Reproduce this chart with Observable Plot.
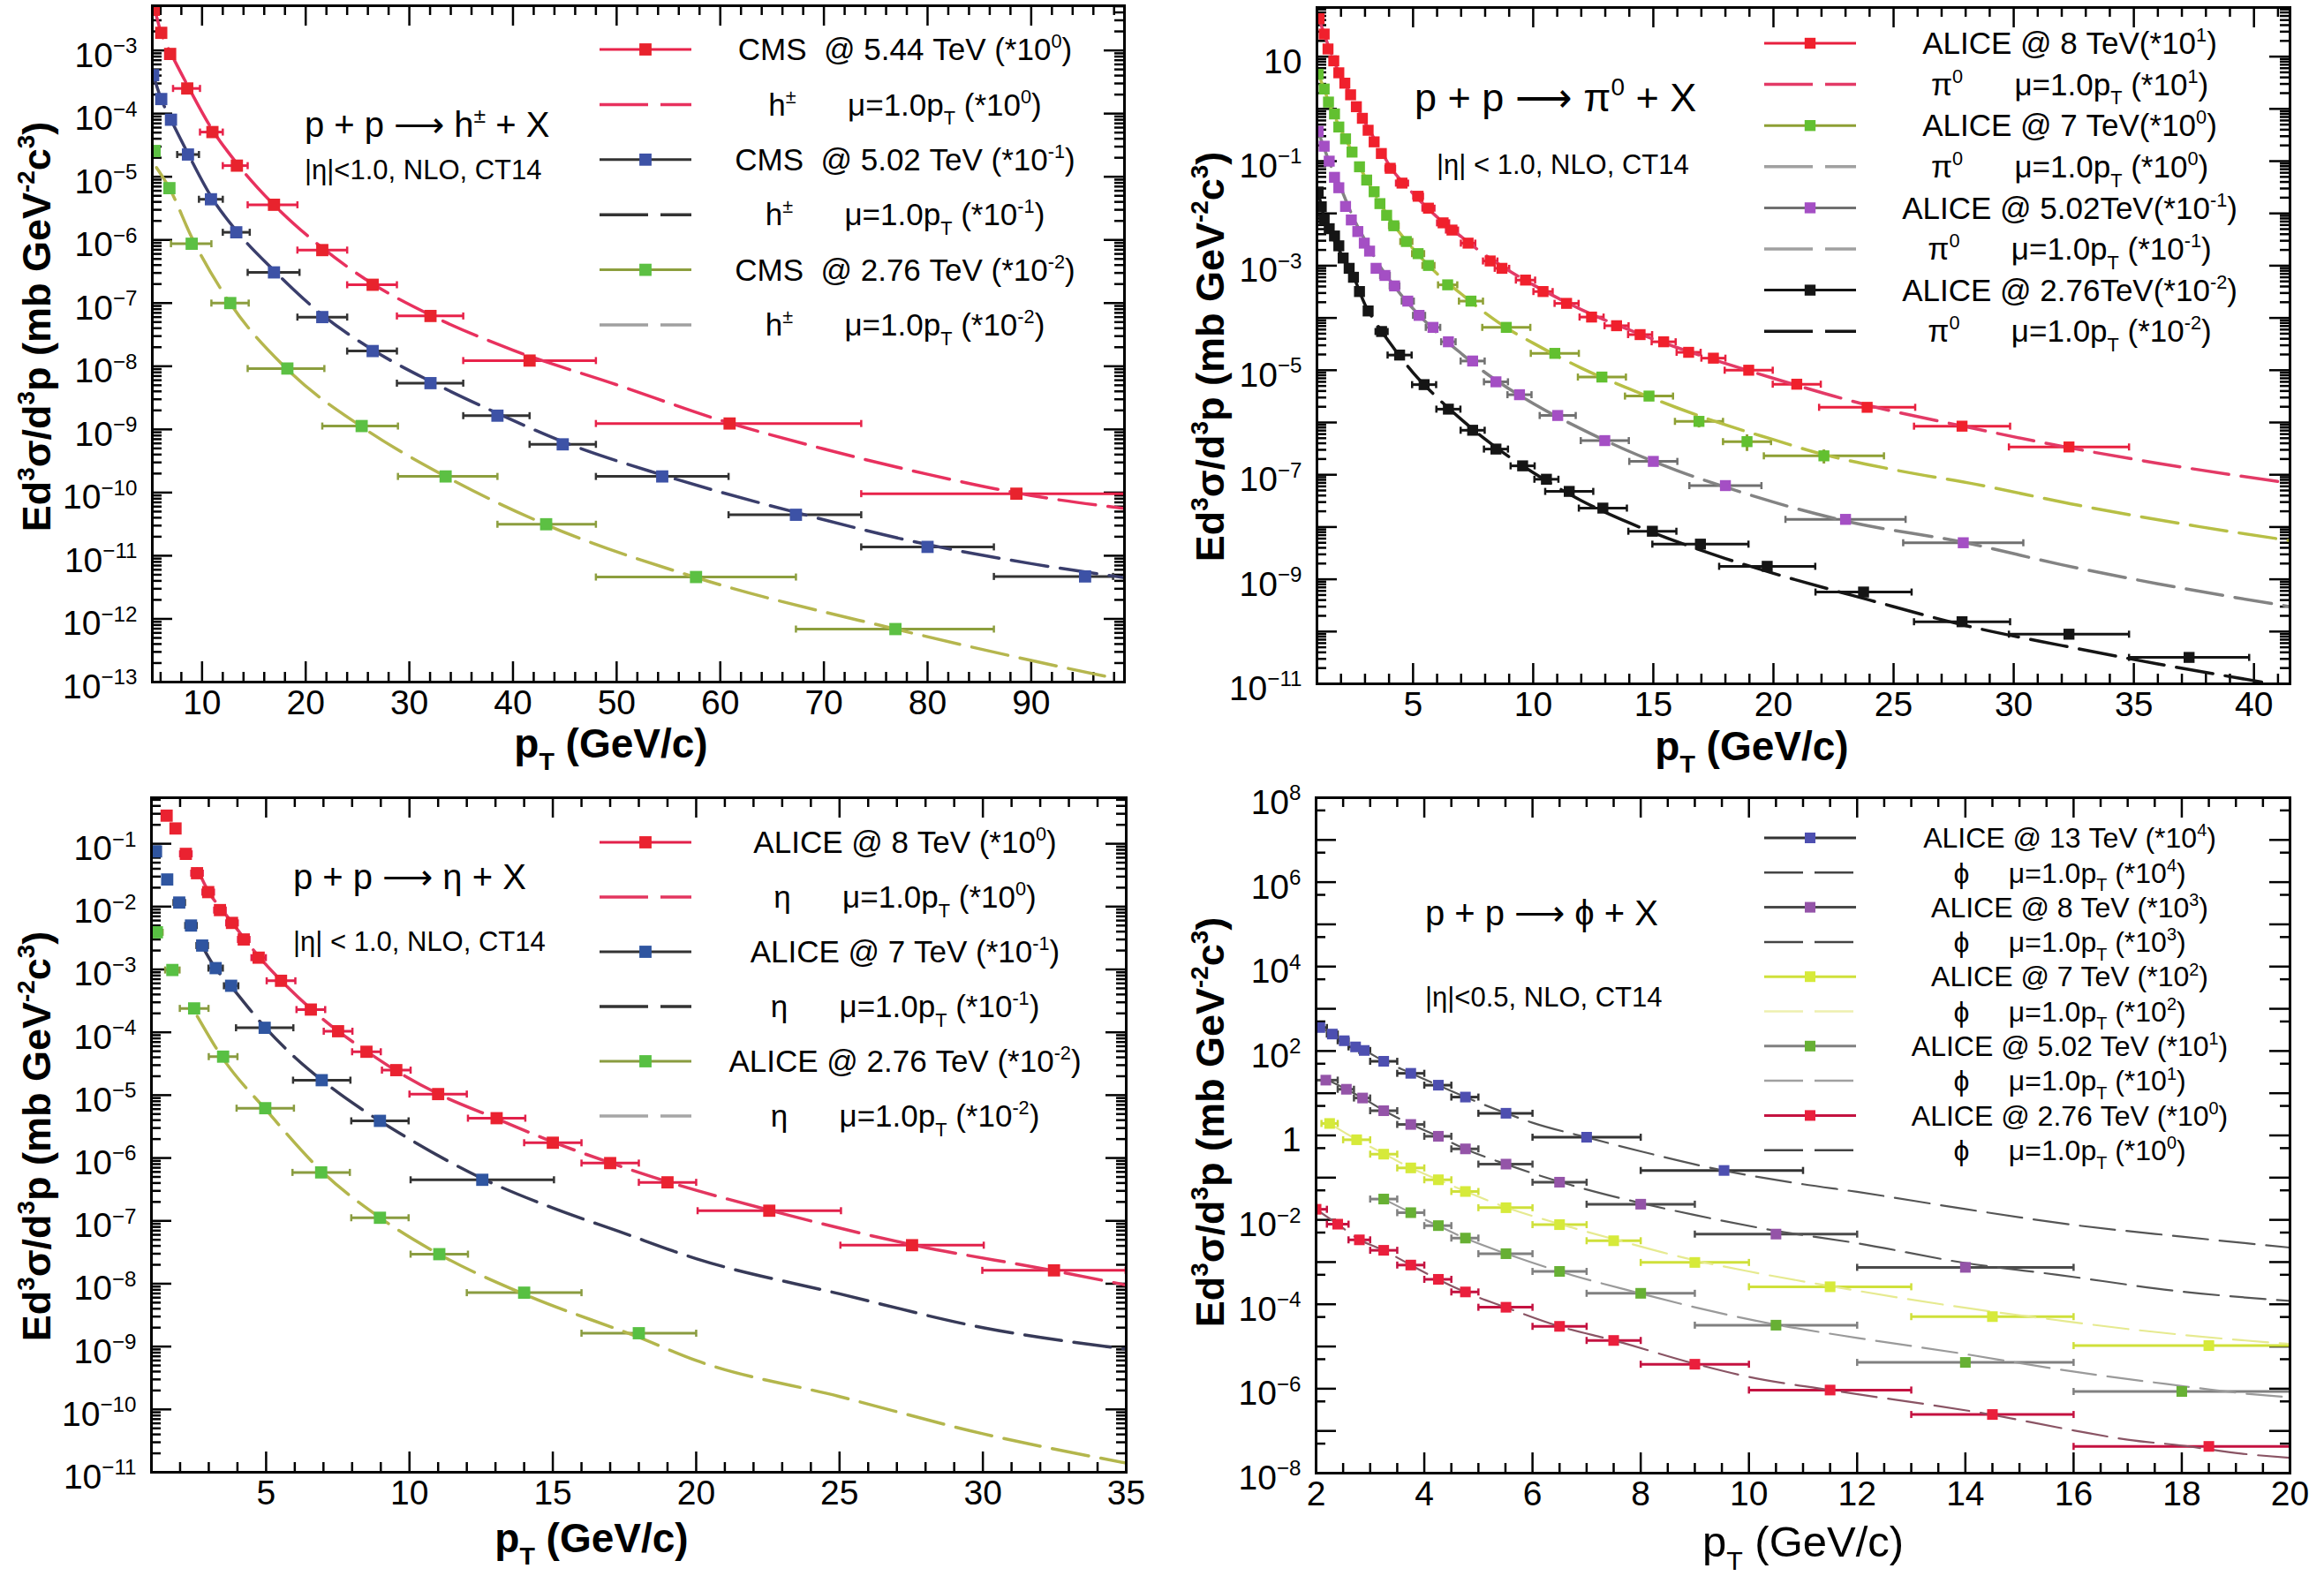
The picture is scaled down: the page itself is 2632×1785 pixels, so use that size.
<!DOCTYPE html>
<html><head><meta charset="utf-8">
<script src="https://cdn.jsdelivr.net/npm/d3@7"></script>
<script src="https://cdn.jsdelivr.net/npm/@observablehq/plot@0.6"></script>
<style>
html,body{margin:0;padding:0;background:#fff;}
#wrap{position:relative;width:2632px;height:1785px;background:#fff;overflow:hidden;}
.panel{position:absolute;}
svg text{white-space:pre;}
</style></head><body><div id="wrap"></div><script>
// ---------------- Panel 1: p+p -> h± + X (CMS) ----------------
const h544_pt  = [5.35,6.06,6.92,8.57,11.0,13.36,16.94,21.6,26.46,32.04,41.6,60.9,88.57];
const h544_val = [4.4e-3,1.9e-3,8.8e-4,2.5e-4,5.1e-5,1.5e-5,3.6e-6,6.9e-7,1.95e-7,6.25e-8,1.23e-8,1.24e-9,9.6e-11];
const h544_lo  = [5.2,5.8,6.6,7.2,9.8,12.0,14.4,19.2,24.0,28.8,35.2,48.0,73.6];
const h544_hi  = [5.5,6.3,7.2,9.8,12.0,14.4,19.2,24.0,28.8,35.2,48.0,73.6,99.0];
const h502_pt  = [5.28,6.06,7.0,8.64,10.86,13.3,16.94,21.6,26.46,32.04,38.5,44.8,54.4,67.3,80.0,95.2];
const h502_val = [4.06e-4,1.7e-4,8.0e-5,2.25e-5,4.4e-6,1.32e-6,3.06e-7,6.0e-8,1.74e-8,5.4e-9,1.65e-9,5.8e-10,1.8e-10,4.45e-11,1.38e-11,4.7e-12];
const h502_lo  = [5.2,5.8,6.6,7.6,9.7,12.0,14.4,19.2,24.0,28.8,35.2,41.6,48.0,60.8,73.6,86.4];
const h502_hi  = [5.4,6.3,7.4,9.7,12.0,14.6,19.4,24.0,28.8,35.2,41.6,48.0,60.8,73.6,86.4,97.9];
const h276_pt  = [5.42,6.85,9.0,12.72,18.23,25.4,33.5,43.2,57.66,76.9];
const h276_val = [2.56e-5,6.6e-6,8.7e-7,1.0e-7,9.2e-9,1.13e-9,1.8e-10,3.15e-11,4.6e-12,6.9e-13];
const h276_lo  = [5.2,6.4,7.0,10.9,14.4,21.6,28.9,38.5,48.0,67.3];
const h276_hi  = [5.6,7.2,10.9,14.5,21.8,28.9,38.5,48.0,67.3,86.4];
const h544_th_pt  = [5.2,5.5,6.0,7.0,8.5,11.0,13.4,17.0,21.6,26.5,32.0,40.0,50.0,60.0,70.0,80.0,90.0,99.0];
const h544_th_val = [5.8e-3,4.0e-3,2.0e-3,9.0e-4,3.0e-4,5.5e-5,1.6e-5,3.5e-6,7.5e-7,2.0e-7,6.5e-8,1.8e-8,5.1e-9,1.4e-9,4.9e-10,1.95e-10,9.0e-11,5.6e-11];
const h502_th_pt  = [5.2,6.0,7.0,8.6,10.9,13.3,17.0,21.6,26.5,32.0,38.5,45.0,54.4,67.0,80.0,90.0,99.0];
const h502_th_val = [4.6e-4,1.8e-4,8.0e-5,2.4e-5,4.8e-6,1.4e-6,3.2e-7,6.5e-8,1.8e-8,5.8e-9,1.8e-9,6.2e-10,1.9e-10,5.0e-11,1.5e-11,7.5e-12,4.5e-12];
const h276_th_pt  = [5.6,6.85,9.0,12.7,18.2,25.4,33.5,43.2,57.7,76.9,90.0,97.5];
const h276_th_val = [1.4e-5,6.6e-6,1.1e-6,1.0e-7,9.0e-9,1.1e-9,1.8e-10,3.1e-11,4.5e-12,6.9e-13,2.2e-13,1.2e-13];
const p1_xLabels = [10,20,30,40,50,60,70,80,90];
const p1_yLabels = [1e-13,1e-12,1e-11,1e-10,1e-9,1e-8,1e-7,1e-6,1e-5,1e-4,1e-3];
const p1_legend = ["CMS  @ 5.44 TeV (*10^{0})","h^{±}      μ=1.0p_{T} (*10^{0})","CMS  @ 5.02 TeV (*10^{-1})","h^{±}      μ=1.0p_{T} (*10^{-1})","CMS  @ 2.76 TeV (*10^{-2})","h^{±}      μ=1.0p_{T} (*10^{-2})"];

// ---------------- Panel 2: p+p -> π0 + X (ALICE) ----------------
const pi8_pt  = [1.09,1.30,1.46,1.70,1.91,2.16,2.40,2.64,2.89,3.13,3.38,3.68,4.05,4.54,5.21,5.64,6.25,6.62,7.29,8.21,8.70,9.68,10.41,11.39,12.43,13.47,14.45,15.43,16.47,17.5,18.97,20.97,23.9,27.85,32.3];
const pi8_val = [53,27,14,8.3,4.9,3.1,1.86,1.1,0.66,0.39,0.234,0.14,0.073,0.038,0.0213,0.0126,0.0066,0.0048,0.0027,0.00123,8.9e-4,5.3e-4,3.2e-4,1.9e-4,1.04e-4,7.1e-5,4.8e-5,3.5e-5,2.2e-5,1.7e-5,1.0e-5,5.4e-6,1.95e-6,8.5e-7,3.4e-7];
const pi8_err = [0.05,0.05,0.05,0.1,0.1,0.1,0.1,0.1,0.1,0.1,0.15,0.15,0.2,0.25,0.2,0.25,0.25,0.25,0.3,0.3,0.3,0.4,0.4,0.5,0.5,0.5,0.5,0.5,0.5,0.5,1.0,1.0,2.0,2.0,2.5];
const pi7_pt  = [1.05,1.30,1.48,1.73,1.91,2.19,2.46,2.77,3.07,3.38,3.62,3.90,4.20,4.72,5.21,5.64,6.44,7.41,8.88,10.9,12.86,14.82,16.9,18.9,22.1];
const pi7_val = [4.6,2.4,1.35,0.80,0.45,0.267,0.149,0.078,0.0435,0.026,0.0154,0.0092,0.0058,0.0029,0.0017,0.00101,4.3e-4,2.1e-4,6.6e-5,2.1e-5,7.4e-6,3.2e-6,1.05e-6,4.3e-7,2.3e-7];
const pi7_err = [0.05,0.1,0.1,0.1,0.1,0.15,0.15,0.15,0.15,0.15,0.15,0.15,0.2,0.25,0.25,0.25,0.4,0.5,1.0,1.0,1.0,1.0,1.0,1.0,2.5];
const pi7_yrel = [0,0,0,0,0,0,0,0,0,0,0,0,0,0,0,0,0,0,0,0,0,0,0.25,0.35,0.3];
const pi5_pt  = [1.05,1.30,1.51,1.73,1.91,2.19,2.43,2.70,2.97,3.19,3.46,3.83,4.23,4.78,5.25,5.83,6.47,7.48,8.45,9.43,11.02,12.98,15.0,18.0,23.0,27.9];
const pi5_val = [0.37,0.193,0.10,0.049,0.031,0.0136,0.0075,0.0045,0.0027,0.0019,8.9e-4,6.5e-4,4.1e-4,2.1e-4,1.12e-4,6.6e-5,3.5e-5,1.5e-5,6.0e-6,3.4e-6,1.36e-6,4.5e-7,1.8e-7,6.2e-8,1.4e-8,5.0e-9];
const pi5_err = [0.05,0.1,0.1,0.1,0.1,0.1,0.1,0.1,0.1,0.1,0.15,0.2,0.2,0.25,0.25,0.3,0.3,0.5,0.5,0.5,0.75,1.0,1.0,1.5,2.5,2.5];
const pi2_pt  = [1.05,1.18,1.30,1.51,1.73,1.91,2.09,2.34,2.52,2.77,3.13,3.69,4.44,5.46,6.47,7.48,8.45,9.56,10.55,11.5,12.9,14.96,16.96,19.74,23.75,27.85,32.3,37.3];
const pi2_val = [0.0257,0.0134,0.0076,0.0051,0.0037,0.0024,0.0014,8.9e-4,6.0e-4,3.2e-4,1.36e-4,5.5e-5,1.95e-5,5.3e-6,1.8e-6,7.1e-7,3.1e-7,1.48e-7,8.2e-8,4.8e-8,2.3e-8,8.3e-9,4.7e-9,1.77e-9,5.7e-10,1.54e-10,8.9e-11,3.2e-11];
const pi2_err = [0.05,0.05,0.05,0.1,0.1,0.1,0.1,0.1,0.1,0.1,0.15,0.25,0.5,0.5,0.5,0.5,0.5,0.5,0.5,1.0,1.0,1.0,2.0,2.0,2.0,2.0,2.5,2.5];
const pi8_th_pt  = [1.09,1.3,1.5,2,2.5,3,3.5,4,5,6,7,8,9,10,12,14,16,18,20,24,28,32,36,41.5];
const pi8_th_val = [53,27,15,4.0,1.6,0.55,0.22,0.085,0.024,0.0085,0.0036,0.0016,8.0e-4,4.3e-4,1.45e-4,5.9e-5,2.7e-5,1.35e-5,7.0e-6,2.1e-6,8.3e-7,3.5e-7,1.66e-7,6.9e-8];
const pi7_th_pt  = [1.05,1.3,1.5,2,2.5,3,3.5,4,5,6,7,8,9,10,12,14,16,18,20,22,25,28.4,32.7,37.7,41.5];
const pi7_th_val = [4.6,2.4,1.3,0.4,0.14,0.05,0.02,0.0082,0.0021,7.0e-4,2.9e-4,1.25e-4,6.0e-5,3.3e-5,1.1e-5,4.4e-6,1.9e-6,9.0e-7,4.7e-7,2.5e-7,1.25e-7,6.6e-8,2.6e-8,1.02e-8,5.5e-9];
const pi5_th_pt  = [1.05,1.5,2,2.5,3,3.5,4,5,6,7,8,9,10,12,14,16,18,20,23,28,32,36,41.5];
const pi5_th_val = [0.37,0.1,0.03,0.0085,0.0031,0.0012,5.5e-4,1.5e-4,5.2e-5,2.1e-5,9.0e-6,4.4e-6,2.3e-6,7.5e-7,2.8e-7,1.2e-7,5.8e-8,3.0e-8,1.3e-8,5.0e-9,1.9e-9,8.2e-10,3.0e-10];
const pi2_th_pt  = [1.05,1.3,1.5,2,2.5,3,3.5,4,5,6,7,8,9,10,12,14,16,18,20,24,28,32,36,40.5];
const pi2_th_val = [0.026,0.0085,0.005,0.0017,6.5e-4,1.8e-4,7.5e-5,3.5e-5,9.0e-6,3.0e-6,1.15e-6,4.8e-7,2.2e-7,1.1e-7,3.2e-8,1.2e-8,5.2e-9,2.5e-9,1.3e-9,4.0e-10,1.3e-10,5.4e-11,2.4e-11,1.05e-11];
const p2_xLabels = [5,10,15,20,25,30,35,40];
const p2_yLabels = [1e-11,1e-9,1e-7,1e-5,1e-3,1e-1,10];
const p2_legend = ["ALICE @ 8 TeV(*10^{1})","π^{0}      μ=1.0p_{T} (*10^{1})","ALICE @ 7 TeV(*10^{0})","π^{0}      μ=1.0p_{T} (*10^{0})","ALICE @ 5.02TeV(*10^{-1})","π^{0}      μ=1.0p_{T} (*10^{-1})","ALICE @ 2.76TeV(*10^{-2})","π^{0}      μ=1.0p_{T} (*10^{-2})"];

// ---------------- Panel 3: p+p -> η + X (ALICE) ----------------
const eta8_pt  = [1.53,1.84,2.20,2.59,2.98,3.39,3.81,4.22,4.74,5.52,6.56,7.51,8.50,9.54,11.0,13.04,15.0,17.0,19.0,22.55,27.53,32.48];
const eta8_val = [0.28,0.175,0.069,0.034,0.017,0.0088,0.0055,0.003,0.00154,6.6e-4,2.3e-4,1.04e-4,4.9e-5,2.5e-5,1.04e-5,4.3e-6,1.75e-6,8.3e-7,4.1e-7,1.45e-7,4.1e-8,1.63e-8];
const eta8_err = [0.1,0.1,0.2,0.2,0.2,0.2,0.2,0.2,0.25,0.5,0.5,0.5,0.5,0.5,1,1,1,1,1,2.5,2.5,2.5];
const eta7_pt  = [1.16,1.55,1.97,2.38,2.77,3.24,3.78,4.95,6.94,8.97,12.54];
const eta7_val = [0.0755,0.027,0.0116,0.005,0.0024,0.00105,5.5e-4,1.18e-4,1.73e-5,3.9e-6,4.5e-7];
const eta7_err = [0.1,0.1,0.2,0.2,0.2,0.25,0.25,1,1,1,2.5];
const eta276_pt  = [1.19,1.73,2.49,3.50,4.97,6.92,8.97,11.04,14.0,18.0];
const eta276_val = [0.0039,9.8e-4,2.4e-4,4.1e-5,6.2e-6,5.9e-7,1.12e-7,2.95e-8,7.2e-9,1.63e-9];
const eta276_err = [0.2,0.25,0.5,0.5,1,1,1,1,2,2];
const eta8_th_pt  = [2.6,3.0,3.5,4.0,4.7,5.5,6.5,7.5,8.5,9.5,11,13,15,17,19,22.5,27.5,32.5,35];
const eta8_th_val = [0.04,0.017,0.0085,0.0043,0.0017,6.8e-4,2.5e-4,1.05e-4,5.0e-5,2.5e-5,1.05e-5,4.3e-6,1.8e-6,8.4e-7,4.2e-7,1.5e-7,4.2e-8,1.6e-8,9.5e-9];
const eta7_th_pt  = [2.7,3.2,3.8,5,6,7,9,10,12.5,15,17.3,20,25,30,35];
const eta7_th_val = [0.0027,0.0011,5.2e-4,1.15e-4,4.0e-5,1.65e-5,3.8e-6,2.0e-6,4.8e-7,1.6e-7,6.8e-8,2.5e-8,6.9e-9,2.0e-9,9.1e-10];
const eta276_th_pt  = [2.6,3.5,5,7,9,11,14,18,20,25,30,35];
const eta276_th_val = [1.8e-4,3.8e-5,5.8e-6,5.8e-7,1.1e-7,3.0e-8,6.8e-9,1.4e-9,6.0e-10,1.6e-10,4.1e-11,1.4e-11];
const p3_xLabels = [5,10,15,20,25,30,35];
const p3_yLabels = [1e-11,1e-10,1e-9,1e-8,1e-7,1e-6,1e-5,1e-4,1e-3,1e-2,1e-1];
const p3_legend = ["ALICE @ 8 TeV (*10^{0})","η      μ=1.0p_{T} (*10^{0})","ALICE @ 7 TeV (*10^{-1})","η      μ=1.0p_{T} (*10^{-1})","ALICE @ 2.76 TeV (*10^{-2})","η      μ=1.0p_{T} (*10^{-2})"];

// ---------------- Panel 4: p+p -> φ + X (ALICE) ----------------
const phi13_pt  = [2.07,2.30,2.52,2.73,2.89,3.25,3.75,4.26,4.76,5.51,7.0,9.54];
const phi13_val = [360,252,175,125,103,57,29.6,15.5,8.1,3.35,0.906,0.148];
const phi13_lo  = [2.0,2.2,2.4,2.6,2.8,3.0,3.5,4.0,4.5,5.0,6.0,8.0];
const phi13_hi  = [2.2,2.4,2.6,2.8,3.0,3.5,4.0,4.5,5.0,6.0,8.0,11.0];
const phi8_pt  = [2.18,2.56,2.86,3.25,3.75,4.26,4.76,5.51,6.5,8.0,10.5,14.0];
const phi8_val = [20.4,12.4,7.7,3.85,1.82,0.955,0.48,0.209,0.078,0.0235,0.0046,7.5e-4];
const phi8_lo  = [2.0,2.4,2.7,3.0,3.5,4.0,4.5,5.0,6.0,7.0,9.0,12.0];
const phi8_hi  = [2.4,2.7,3.0,3.5,4.0,4.5,5.0,6.0,7.0,9.0,12.0,16.0];
const phi7_pt  = [2.25,2.75,3.25,3.75,4.26,4.76,5.51,6.5,7.5,9.0,11.5,14.5,18.5];
const phi7_val = [1.92,0.79,0.36,0.17,0.089,0.047,0.0194,0.0077,0.0032,9.8e-4,2.6e-4,5.1e-5,1.05e-5];
const phi7_lo  = [2.1,2.5,3.0,3.5,4.0,4.5,5.0,6.0,7.0,8.0,10.0,13.0,16.0];
const phi7_hi  = [2.4,3.0,3.5,4.0,4.5,5.0,6.0,7.0,8.0,10.0,13.0,16.0,20.0];
const phi5_pt  = [3.25,3.75,4.26,4.76,5.51,6.5,8.0,10.5,14.0,18.0];
const phi5_val = [0.0311,0.0148,0.0073,0.0037,0.00158,6.0e-4,1.82e-4,3.2e-5,4.2e-6,8.6e-7];
const phi5_lo  = [3.0,3.5,4.0,4.5,5.0,6.0,7.0,9.0,12.0,16.0];
const phi5_hi  = [3.5,4.0,4.5,5.0,6.0,7.0,9.0,12.0,16.0,20.0];
const phi2_pt  = [2.0,2.40,2.80,3.25,3.75,4.26,4.76,5.51,6.5,7.5,9.0,11.5,14.5,18.5];
const phi2_val = [0.0178,0.0079,0.00336,0.0019,8.5e-4,3.9e-4,1.96e-4,8.5e-5,3.0e-5,1.39e-5,3.8e-6,9.3e-7,2.45e-7,4.3e-8];
const phi2_lo  = [1.8,2.2,2.6,3.0,3.5,4.0,4.5,5.0,6.0,7.0,8.0,10.0,13.0,16.0];
const phi2_hi  = [2.2,2.6,3.0,3.5,4.0,4.5,5.0,6.0,7.0,8.0,10.0,13.0,16.0,20.0];
const phi13_th_pt  = [2.0,2.3,2.5,2.9,3.25,3.75,4.25,4.75,5.5,6.0,7.0,8.0,9.5,11.0,12.0,14.0,16.0,18.0,20.0];
const phi13_th_val = [420,252,180,103,58,30,15.5,8.2,3.4,2.0,0.9,0.42,0.15,0.07,0.046,0.018,0.0076,0.004,0.0022];
const phi8_th_pt  = [2.2,2.56,2.86,3.25,3.75,4.25,4.75,5.5,6.5,8.0,9.0,10.5,12.0,14.0,15.7,18.0,20.0];
const phi8_th_val = [21,12.4,7.7,3.9,1.85,0.96,0.48,0.21,0.08,0.025,0.013,0.0055,0.0028,9.5e-4,5.0e-4,2.0e-4,1.2e-4];
const phi7_th_pt  = [2.25,2.75,3.25,3.75,4.25,4.75,5.5,6.5,7.5,9.0,10.0,11.5,13.6,15.7,17.0,18.8,20.0];
const phi7_th_val = [1.9,0.8,0.37,0.17,0.09,0.048,0.02,0.008,0.0035,0.0011,6.0e-4,2.7e-4,9.8e-5,4.2e-5,2.6e-5,1.52e-5,1.15e-5];
const phi5_th_pt  = [3.25,3.75,4.25,4.75,5.5,6.5,8.0,9.0,10.5,12.0,14.0,15.7,17.7,19.4,20.0];
const phi5_th_val = [0.031,0.0148,0.0073,0.0037,0.0016,6.0e-4,1.8e-4,8.5e-5,3.3e-5,1.6e-5,6.6e-6,2.9e-6,1.3e-6,7.2e-7,6.3e-7];
const phi2_th_pt  = [2.0,2.4,2.8,3.25,3.75,4.25,4.75,5.5,6.5,7.5,9.0,10.0,11.5,14.5,16.0,17.0,18.0,19.1,20.0];
const phi2_th_val = [0.0178,0.0079,0.0034,0.0019,8.5e-4,3.9e-4,1.96e-4,8.5e-5,3.0e-5,1.4e-5,3.9e-6,1.9e-6,9.3e-7,2.4e-7,1.03e-7,6.2e-8,4.5e-8,2.9e-8,2.3e-8];
const p4_xLabels = [2,4,6,8,10,12,14,16,18,20];
const p4_yLabels = [1e-8,1e-6,1e-4,1e-2,1,1e2,1e4,1e6,1e8];
const p4_legend = ["ALICE @ 13 TeV (*10^{4})","ϕ     μ=1.0p_{T} (*10^{4})","ALICE @ 8 TeV (*10^{3})","ϕ     μ=1.0p_{T} (*10^{3})","ALICE @ 7 TeV (*10^{2})","ϕ     μ=1.0p_{T} (*10^{2})","ALICE @ 5.02 TeV (*10^{1})","ϕ     μ=1.0p_{T} (*10^{1})","ALICE @ 2.76 TeV (*10^{0})","ϕ     μ=1.0p_{T} (*10^{0})"];

// ---------------- helpers ----------------
const FONT = "'Liberation Sans', Arial, Helvetica, sans-serif";
const vbar = {draw(ctx, size) { const h = Math.sqrt(size) / 2; ctx.moveTo(0, -h); ctx.lineTo(0, h); }};

function rich(el, str, F) {
  const t = d3.select(el);
  t.text(null);
  const parts = str.split(/(\^\{[^}]*\}|_\{[^}]*\})/).filter(s => s.length);
  let shift = 0;
  for (const p of parts) {
    let target = 0, size = F, txt = p;
    if (p.startsWith("^{")) { target = -0.40 * F; size = 0.62 * F; txt = p.slice(2, -1); }
    else if (p.startsWith("_{")) { target = 0.30 * F; size = 0.62 * F; txt = p.slice(2, -1); }
    const ts = t.append("tspan").attr("font-size", size).text(txt.replace(/ /g, "\u00a0"));
    if (target - shift !== 0) ts.attr("dy", target - shift);
    shift = target;
  }
}
function decades(dom) {
  const out = [];
  for (let e = Math.floor(Math.log10(dom[0])); e <= Math.ceil(Math.log10(dom[1])); e++) {
    const v = Math.pow(10, e); if (v >= dom[0] * 0.999 && v <= dom[1] * 1.001) out.push(v);
  }
  return out;
}
function logMinor(dom, mults) {
  const out = [];
  for (let e = Math.floor(Math.log10(dom[0])); e <= Math.ceil(Math.log10(dom[1])); e++)
    for (const k of mults) { const v = k * Math.pow(10, e); if (v >= dom[0] && v <= dom[1]) out.push(v); }
  return out;
}
function linTicks(dom, step, skipStep) {
  const out = [];
  for (let i = Math.ceil(dom[0] / step - 1e-9); i * step <= dom[1] + 1e-9; i++) {
    const v = Math.round(i * step * 1000) / 1000;
    if (skipStep && Math.abs(v / skipStep - Math.round(v / skipStep)) < 1e-6) continue;
    out.push(v);
  }
  return out;
}
function expFmt(d, special) {
  if (special && special[d] !== undefined) return special[d];
  const e = Math.round(Math.log10(d));
  return "10^{" + (e < 0 ? "\u2212" + (-e) : String(e)) + "}";
}

function buildPanel(cfg) {
  const {width, height, ml, mr, mt, mb, xdom, ydom, series} = cfg;
  const fw = width - ml - mr, fh = height - mt - mb;
  const TL = 23, TS = 11, tw = 2.5;
  const yMaj = decades(ydom), yMin = logMinor(ydom, cfg.yMinorMults);
  const xMaj = linTicks(xdom, cfg.xMajorStep), xMin = linTicks(xdom, cfg.xMinorStep, cfg.xMajorStep);
  const marks = [];
  // inward ticks on all four sides
  marks.push(Plot.tickY(yMaj, {y: d => d, insetRight: fw - TL, stroke: "#000", strokeWidth: tw}));
  marks.push(Plot.tickY(yMaj, {y: d => d, insetLeft: fw - TL, stroke: "#000", strokeWidth: tw}));
  marks.push(Plot.tickY(yMin, {y: d => d, insetRight: fw - TS, stroke: "#000", strokeWidth: tw}));
  marks.push(Plot.tickY(yMin, {y: d => d, insetLeft: fw - TS, stroke: "#000", strokeWidth: tw}));
  marks.push(Plot.tickX(xMaj, {x: d => d, insetTop: fh - TL, stroke: "#000", strokeWidth: tw}));
  marks.push(Plot.tickX(xMaj, {x: d => d, insetBottom: fh - TL, stroke: "#000", strokeWidth: tw}));
  marks.push(Plot.tickX(xMin, {x: d => d, insetTop: fh - TS, stroke: "#000", strokeWidth: tw}));
  marks.push(Plot.tickX(xMin, {x: d => d, insetBottom: fh - TS, stroke: "#000", strokeWidth: tw}));
  const rowsAll = series.map(s => s.pt.map((x, i) => ({
    x, y: s.val[i],
    lo: s.lo ? s.lo[i] : x - s.err[i],
    hi: s.hi ? s.hi[i] : x + s.err[i],
    ye: s.yrel ? s.yrel[i] : 0
  })));
  series.forEach((s, k) => {
    const rows = rowsAll[k];
    marks.push(Plot.ruleY(rows, {y: "y", x1: "lo", x2: "hi", stroke: s.bar, strokeWidth: cfg.barW, clip: true}));
    marks.push(Plot.dot(rows, {x: "lo", y: "y", symbol: vbar, r: 4.5, fill: "none", stroke: s.bar, strokeWidth: 2.5, clip: true}));
    marks.push(Plot.dot(rows, {x: "hi", y: "y", symbol: vbar, r: 4.5, fill: "none", stroke: s.bar, strokeWidth: 2.5, clip: true}));
    const ey = rows.filter(r => r.ye > 0);
    if (ey.length) marks.push(Plot.ruleX(ey, {x: "x", y1: r => r.y * (1 - r.ye), y2: r => r.y * (1 + r.ye), stroke: s.bar, strokeWidth: cfg.barW}));
  });
  series.forEach(s => {
    const th = s.thPt.map((x, i) => ({x, y: s.thVal[i]}));
    marks.push(Plot.line(th, {x: "x", y: "y", stroke: s.curve, strokeWidth: cfg.curveW, strokeDasharray: cfg.dash, curve: "monotone-x", clip: true}));
  });
  series.forEach((s, k) => {
    marks.push(Plot.dot(rowsAll[k], {x: "x", y: "y", symbol: "square", r: cfg.markR, fill: s.marker, stroke: "none", clip: true}));
  });
  marks.push(Plot.frame({stroke: "#000", strokeWidth: 3}));
  marks.push(Plot.axisY(cfg.yLabels, {anchor: "left", tickSize: 0, tickPadding: 17, dy: 6, tickFormat: d => expFmt(d, cfg.ySpecial), fontSize: 39, label: null}));
  marks.push(Plot.axisX(cfg.xLabels, {anchor: "bottom", tickSize: 0, tickPadding: 9, tickFormat: d => String(d), fontSize: 39, label: null}));

  const svg = Plot.plot({
    width, height, marginLeft: ml, marginRight: mr, marginTop: mt, marginBottom: mb,
    x: {type: "linear", domain: xdom},
    y: {type: "log", domain: ydom},
    style: {fontFamily: FONT, fontSize: "39px", background: "transparent", color: "#000", overflow: "visible"},
    marks
  });
  const holder = document.createElement("div");
  holder.className = "panel";
  holder.style.left = cfg.left + "px";
  holder.style.top = cfg.top + "px";
  holder.appendChild(svg);
  document.getElementById("wrap").appendChild(holder);

  // superscripts in tick labels
  d3.select(svg).selectAll("text").each(function () {
    const s = this.textContent;
    if (/[\^_]\{/.test(s)) rich(this, s, parseFloat(getComputedStyle(this).fontSize) || 39);
  });

  const g = d3.select(svg).append("g").attr("font-family", FONT).attr("fill", "#000").attr("text-anchor", "start");
  // legend
  const L = cfg.legend;
  cfg.legendText.forEach((txt, i) => {
    const y = L.y0 + i * L.dy;
    const s = series[Math.floor(i / 2)];
    if (i % 2 === 0) {
      g.append("line").attr("x1", L.x1).attr("x2", L.x2).attr("y1", y).attr("y2", y)
        .attr("stroke", s.bar).attr("stroke-width", cfg.barW);
      const m = cfg.markR * 1.77;
      g.append("rect").attr("x", (L.x1 + L.x2) / 2 - m / 2).attr("y", y - m / 2).attr("width", m).attr("height", m).attr("fill", s.marker);
    } else {
      g.append("line").attr("x1", L.x1).attr("x2", L.x2).attr("y1", y).attr("y2", y)
        .attr("stroke", s.legDash).attr("stroke-width", cfg.legW).attr("stroke-dasharray", L.dash);
    }
    const t = g.append("text").attr("x", L.xt).attr("y", y + 0.35 * L.fs).attr("text-anchor", "middle").attr("font-size", L.fs);
    rich(t.node(), txt, L.fs);
  });
  // headers
  cfg.headers.forEach(h => {
    const t = g.append("text").attr("x", h.x).attr("y", h.y).attr("text-anchor", "start").attr("font-size", h.fs);
    rich(t.node(), h.text, h.fs);
  });
  // axis titles
  const xt = g.append("text").attr("x", cfg.xTitle.x).attr("y", cfg.xTitle.y).attr("text-anchor", "middle")
    .attr("font-size", cfg.xTitle.fs).attr("font-weight", cfg.xTitle.bold ? "bold" : "normal");
  rich(xt.node(), "p_{T} (GeV/c)", cfg.xTitle.fs);
  const yt = g.append("text").attr("transform", `translate(${cfg.yTitle.x},${cfg.yTitle.y}) rotate(-90)`)
    .attr("text-anchor", "middle").attr("font-size", 45).attr("font-weight", "bold");
  rich(yt.node(), "Ed^{3}σ/d^{3}p (mb GeV^{-2}c^{3})", 45);
}

// ---------------- panels ----------------
buildPanel({
  left: 0, top: 0, width: 1316, height: 880, ml: 172, mr: 43, mt: 6, mb: 108,
  xdom: [5.2, 99], ydom: [1e-13, 5.1e-3], xMajorStep: 10, xMinorStep: 2, yMinorMults: [2,3,4,5,6,7,8,9],
  xLabels: p1_xLabels, yLabels: p1_yLabels, markR: 7.8, barW: 3, curveW: 3.5, dash: "42,14",
  series: [
    {pt: h544_pt, val: h544_val, lo: h544_lo, hi: h544_hi, thPt: h544_th_pt, thVal: h544_th_val, marker: "#e8232d", bar: "#e8234a", curve: "#e8315e", legDash: "#e8315e"},
    {pt: h502_pt, val: h502_val, lo: h502_lo, hi: h502_hi, thPt: h502_th_pt, thVal: h502_th_val, marker: "#3d52a6", bar: "#333333", curve: "#3a3e6c", legDash: "#333333"},
    {pt: h276_pt, val: h276_val, lo: h276_lo, hi: h276_hi, thPt: h276_th_pt, thVal: h276_th_val, marker: "#5cc043", bar: "#8c9e3e", curve: "#b5b64e", legDash: "#a0a0a0"}
  ],
  legendText: p1_legend, legW: 3.5,
  legend: {x1: 679, x2: 783, xt: 1025, y0: 56, dy: 62.4, fs: 35, dash: "55,14"},
  headers: [{text: "p + p ⟶ h^{±} + X", x: 345, y: 155, fs: 40}, {text: "|η|<1.0, NLO, CT14", x: 345, y: 203, fs: 31}],
  xTitle: {x: 692, y: 858, fs: 46, bold: true}, yTitle: {x: 57, y: 370}
});
buildPanel({
  left: 1316, top: 0, width: 1316, height: 880, ml: 175, mr: 39, mt: 8, mb: 106,
  xdom: [1, 41.5], ydom: [1e-11, 87], xMajorStep: 5, xMinorStep: 1, yMinorMults: [2,3,4,5,6,7,8,9],
  xLabels: p2_xLabels, yLabels: p2_yLabels, ySpecial: {10: "10"}, markR: 7, barW: 3, curveW: 3.5, dash: "42,14",
  series: [
    {pt: pi8_pt, val: pi8_val, err: pi8_err, thPt: pi8_th_pt, thVal: pi8_th_val, marker: "#f0202c", bar: "#e8203e", curve: "#e33a66", legDash: "#e33a66"},
    {pt: pi7_pt, val: pi7_val, err: pi7_err, yrel: pi7_yrel, thPt: pi7_th_pt, thVal: pi7_th_val, marker: "#62c030", bar: "#8ea034", curve: "#b7bf45", legDash: "#a0a0a0"},
    {pt: pi5_pt, val: pi5_val, err: pi5_err, thPt: pi5_th_pt, thVal: pi5_th_val, marker: "#a44fc4", bar: "#707070", curve: "#838383", legDash: "#a0a0a0"},
    {pt: pi2_pt, val: pi2_val, err: pi2_err, thPt: pi2_th_pt, thVal: pi2_th_val, marker: "#151515", bar: "#151515", curve: "#151515", legDash: "#151515"}
  ],
  legendText: p2_legend, legW: 3.5,
  legend: {x1: 682, x2: 786, xt: 1028, y0: 49, dy: 46.6, fs: 35, dash: "55,14"},
  headers: [{text: "p + p ⟶ π^{0} + X", x: 286, y: 126, fs: 45}, {text: "|η| < 1.0, NLO, CT14", x: 311, y: 197, fs: 31}],
  xTitle: {x: 668, y: 861, fs: 46, bold: true}, yTitle: {x: 70, y: 404}
});
buildPanel({
  left: 0, top: 880, width: 1316, height: 905, ml: 171, mr: 41, mt: 23, mb: 118,
  xdom: [1, 35], ydom: [1e-11, 0.54], xMajorStep: 5, xMinorStep: 1, yMinorMults: [2,3,4,5,6,7,8,9],
  xLabels: p3_xLabels, yLabels: p3_yLabels, markR: 7.8, barW: 3, curveW: 3.5, dash: "42,14",
  series: [
    {pt: eta8_pt, val: eta8_val, err: eta8_err, thPt: eta8_th_pt, thVal: eta8_th_val, marker: "#ea2230", bar: "#e2204a", curve: "#e3365f", legDash: "#e3365f"},
    {pt: eta7_pt, val: eta7_val, err: eta7_err, thPt: eta7_th_pt, thVal: eta7_th_val, marker: "#2f55a0", bar: "#333333", curve: "#373a58", legDash: "#333333"},
    {pt: eta276_pt, val: eta276_val, err: eta276_err, thPt: eta276_th_pt, thVal: eta276_th_val, marker: "#58c043", bar: "#8a9c40", curve: "#b3b64c", legDash: "#a6a6a6"}
  ],
  legendText: p3_legend, legW: 3.5,
  legend: {x1: 679, x2: 783, xt: 1025, y0: 74, dy: 62, fs: 35, dash: "55,14"},
  headers: [{text: "p + p ⟶ η + X", x: 332, y: 127, fs: 40}, {text: "|η| < 1.0, NLO, CT14", x: 332, y: 197, fs: 31}],
  xTitle: {x: 670, y: 878, fs: 46, bold: true}, yTitle: {x: 57, y: 407}
});
buildPanel({
  left: 1316, top: 880, width: 1316, height: 905, ml: 174, mr: 39, mt: 23, mb: 117,
  xdom: [2, 20], ydom: [1e-8, 1e8], xMajorStep: 2, xMinorStep: 0.5, yMinorMults: [5],
  xLabels: p4_xLabels, yLabels: p4_yLabels, ySpecial: {1: "1"}, markR: 6.8, barW: 3, curveW: 2.2, dash: "40,13",
  series: [
    {pt: phi13_pt, val: phi13_val, lo: phi13_lo, hi: phi13_hi, thPt: phi13_th_pt, thVal: phi13_th_val, marker: "#4d4fb0", bar: "#333333", curve: "#555555", legDash: "#444444"},
    {pt: phi8_pt, val: phi8_val, lo: phi8_lo, hi: phi8_hi, thPt: phi8_th_pt, thVal: phi8_th_val, marker: "#9454a8", bar: "#4a4a4a", curve: "#555555", legDash: "#444444"},
    {pt: phi7_pt, val: phi7_val, lo: phi7_lo, hi: phi7_hi, thPt: phi7_th_pt, thVal: phi7_th_val, marker: "#d6ea3a", bar: "#cfe03a", curve: "#e6ea90", legDash: "#eef0b0"},
    {pt: phi5_pt, val: phi5_val, lo: phi5_lo, hi: phi5_hi, thPt: phi5_th_pt, thVal: phi5_th_val, marker: "#67b034", bar: "#808080", curve: "#9a9a9a", legDash: "#a0a0a0"},
    {pt: phi2_pt, val: phi2_val, lo: phi2_lo, hi: phi2_hi, thPt: phi2_th_pt, thVal: phi2_th_val, marker: "#ea1f3c", bar: "#c41240", curve: "#8a5464", legDash: "#444444"}
  ],
  legendText: p4_legend, legW: 2.5,
  legend: {x1: 682, x2: 786, xt: 1028, y0: 69, dy: 39.3, fs: 32, dash: "44,13"},
  headers: [{text: "p + p ⟶ ϕ + X", x: 298, y: 168, fs: 40}, {text: "|η|<0.5, NLO, CT14", x: 298, y: 260, fs: 31}],
  xTitle: {x: 726, y: 883, fs: 49, bold: false}, yTitle: {x: 70, y: 391}
});
</script></body></html>
